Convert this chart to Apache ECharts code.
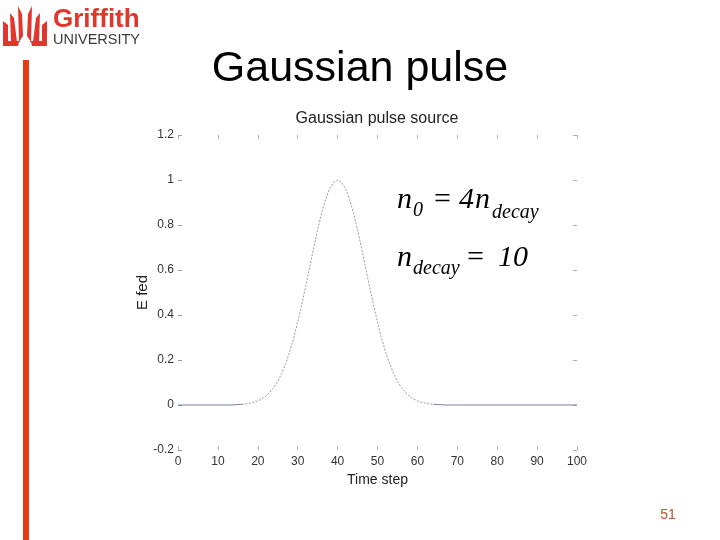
<!DOCTYPE html>
<html><head><meta charset="utf-8">
<script src="https://cdn.jsdelivr.net/npm/echarts@6/dist/echarts.min.js"></script>
<style>html,body{margin:0;padding:0;background:#fff}#c{width:720px;height:540px}</style>
</head><body><div id="c"></div>
<script>
// ---- data ----
const timeSteps = [0,1,2,3,4,5,6,7,8,9,10,11,12,13,14,15,16,17,18,19,20,21,22,23,24,25,26,27,28,29,30,31,32,33,34,35,36,37,38,39,40,41,42,43,44,45,46,47,48,49,50,51,52,53,54,55,56,57,58,59,60,61,62,63,64,65,66,67,68,69,70,71,72,73,74,75,76,77,78,79,80,81,82,83,84,85,86,87,88,89,90,91,92,93,94,95,96,97,98,99,100];
const eFed = [0,0,0,0,0,0,0,0,0,0,0,0,0,0,
  0.001,0.002,0.003,0.005,0.008,0.012,0.018,0.027,0.039,0.056,0.077,0.105,0.141,0.185,0.237,0.298,
  0.368,0.445,0.527,0.613,0.698,0.779,0.852,0.914,0.961,0.990,1.000,
  0.990,0.961,0.914,0.852,0.779,0.698,0.613,0.527,0.445,0.368,
  0.298,0.237,0.185,0.141,0.105,0.077,0.056,0.039,0.027,0.018,0.012,0.008,0.005,0.003,0.002,0.001,
  0,0,0,0,0,0,0,0,0,0,0,0,0,0,0,0,0,0,0,0,0,0,0,0,0,0,0,0,0,0,0,0,0,0];
const xTickLabels = ['0','10','20','30','40','50','60','70','80','90','100'];
const yTickLabels = ['-0.2','0','0.2','0.4','0.6','0.8','1','1.2'];
const slideTitle = 'Gaussian pulse';
const chartTitle = 'Gaussian pulse source';
const xName = 'Time step';
const yName = 'E fed';
const pageNo = '51';

// ---- build series from data: near-zero tails drawn solid, pulse drawn dotted ----
const isFlat = (v) => v <= 0.003;
const flatData = eFed.map((v, i) => [timeSteps[i], isFlat(v) ? v : null]);
const pulseData = eFed.map((v, i) => {
  const near = !isFlat(v) || (i > 0 && !isFlat(eFed[i-1])) || (i < eFed.length-1 && !isFlat(eFed[i+1]));
  return [timeSteps[i], near ? v : null];
});

const SANS = 'Liberation Sans, Arial, sans-serif';
const SERIF = 'Liberation Serif, Times New Roman, serif';
const red = '#e2352b';
function mirror(pts){ return pts.map(p => [50 - p[0], p[1]]); }
const spikes = [
  [[3,21],[8,25],[8,42],[3,42]],
  [[10,13],[14,18],[17,42],[11,42]],
  [[18,6],[22,14],[23,36],[19,42]]
];
const logo = [];
spikes.forEach(s => {
  logo.push({type:'polygon', shape:{points:s}, style:{fill:red}});
  logo.push({type:'polygon', shape:{points:mirror(s)}, style:{fill:red}});
});
logo.push({type:'rect', shape:{x:3,y:41,width:44,height:5}, style:{fill:red}});
logo.push({type:'circle', shape:{cx:25,cy:46,r:7}, style:{fill:'#fff'}});

function t(text, x, y, font, size, opts){
  return {type:'text', x:x, y:y, style:Object.assign({text:text, fontFamily:font, fontSize:size, fill:'#000', align:'left', verticalAlign:'middle'}, opts||{})};
}
const ital = {fontStyle:'italic'};
const tickStyle = {show:true, inside:true, length:4, lineStyle:{color:'#b0b0b0'}};

const chart = echarts.init(document.getElementById('c'));
chart.setOption({
  animation: false,
  backgroundColor: '#fff',
  grid: {left:178, right:143, top:135, bottom:90, containLabel:false},
  xAxis: [{
    type:'value', min:0, max:100, interval:10, position:'bottom',
    name: xName, nameLocation:'middle', nameGap:22,
    nameTextStyle:{fontFamily:SANS, fontSize:14, color:'#222'},
    axisLine:{show:false, onZero:false}, splitLine:{show:false},
    axisTick:tickStyle,
    axisLabel:{margin:6, fontFamily:SANS, fontSize:12, color:'#333',
      formatter:(v)=>xTickLabels[Math.round(v/10)]}
  },{
    type:'value', min:0, max:100, interval:10, position:'top',
    axisLine:{show:false, onZero:false}, splitLine:{show:false}, axisLabel:{show:false},
    axisTick:tickStyle
  }],
  yAxis: [{
    type:'value', min:-0.2, max:1.2, interval:0.2, position:'left',
    name: yName, nameLocation:'middle', nameGap:28, nameRotate:90, nameMoveOverlap:false,
    nameTextStyle:{fontFamily:SANS, fontSize:15, color:'#222'},
    axisLine:{show:false, onZero:false}, splitLine:{show:false},
    axisTick:{show:true, inside:true, length:4, lineStyle:{color:'#999'}},
    axisLabel:{margin:4, fontFamily:SANS, fontSize:12, color:'#333',
      formatter:(v)=>yTickLabels[Math.round((v+0.2)/0.2)]}
  },{
    type:'value', min:-0.2, max:1.2, interval:0.2, position:'right',
    axisLine:{show:false, onZero:false}, splitLine:{show:false}, axisLabel:{show:false},
    axisTick:tickStyle
  }],
  series: [{
    type:'line', data:flatData, showSymbol:false, connectNulls:false,
    lineStyle:{color:'#7c7ca6', width:1}, silent:true
  },{
    type:'line', data:pulseData, showSymbol:false, connectNulls:false,
    lineStyle:{color:'#9a9a9a', width:1, type:[2,1.5]}, silent:true
  }],
  graphic: [
    {type:'rect', shape:{x:23,y:60,width:6,height:480}, style:{fill:'#e63c14'}},
    {type:'group', children: logo},
    t('Griffith', 53, 20, SANS, 26, {fill:red, fontWeight:'bold'}),
    t('UNIVERSITY', 53, 40, SANS, 14.5, {fill:'#3a3a3a'}),
    t(slideTitle, 360, 69, SANS, 43, {align:'center'}),
    t(chartTitle, 377, 119, SANS, 16, {align:'center', fill:'#222'}),
    t(pageNo, 668, 515, SANS, 14, {align:'center', fill:'#c0522c'}),
    // n0 = 4 n_decay
    t('n', 397, 200, SERIF, 30, ital),
    t('0', 413, 211, SERIF, 20, ital),
    t('=', 434, 200, SERIF, 30),
    t('4', 459, 200, SERIF, 30, ital),
    t('n', 475, 200, SERIF, 30, ital),
    t('decay', 492, 213, SERIF, 20, ital),
    // n_decay = 10
    t('n', 397, 258, SERIF, 30, ital),
    t('decay', 413, 269, SERIF, 20, ital),
    t('=', 467, 258, SERIF, 30),
    t('10', 498, 258, SERIF, 30, ital)
  ]
});
</script></body></html>
